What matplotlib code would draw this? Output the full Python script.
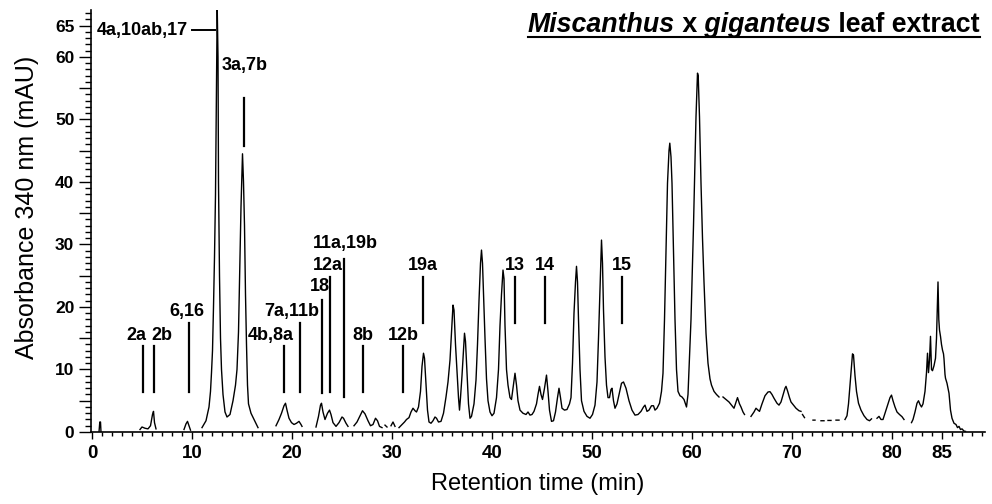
import numpy as np
import matplotlib
matplotlib.use("Agg")
import matplotlib.pyplot as plt
from matplotlib import font_manager
from matplotlib.lines import Line2D
from matplotlib.ticker import FixedLocator, FixedFormatter, MultipleLocator

nan = float("nan")

# chromatogram trace (gaps in the trace -> nan)
retention_time = [
    0.70, 0.78, 0.85, 0.90, nan,
    4.8, 5.0, 5.3, 5.6, 5.85, 6.05, 6.15, 6.25, 6.4, nan,
    9.2, 9.4, 9.55, 9.7, 9.85, nan,
    11.0, 11.4, 11.7, 11.85, 11.95, 12.05, 12.15, 12.25, 12.35, 12.45, 12.52, 12.6,
    12.65, 12.75, 12.85, 12.95, 13.1, 13.3, 13.5, 13.8, 14.1, 14.35, 14.5, 14.65,
    14.8, 14.9, 15.0, 15.05, 15.15, 15.25, 15.35, 15.45, 15.55, 15.65, 15.9, 16.2, 16.6, nan,
    18.4, 18.7, 18.95, 19.2, 19.35, 19.5, 19.7, 19.95, 20.2, 20.45, 20.7, 20.9, 21.0, nan,
    22.4, 22.65, 22.85, 22.95, 23.1, 23.3, 23.55, 23.75, 23.9, 24.1, 24.4, 24.7, 25.0,
    25.15, 25.4, 25.6, nan,
    26.2, 26.5, 26.8, 27.05, 27.3, 27.6, 27.85, 28.1, 28.35, 28.55, 28.75, 29.0, nan,
    29.3, 29.5, nan, 29.9, 30.1, 30.3, nan,
    30.7, 31.0, 31.25, 31.45, 31.7, 31.9, 32.1, 32.3, 32.45, 32.65, 32.85, 33.0, 33.15,
    33.25, 33.4, 33.55, 33.7, 33.9, 34.1, 34.3, 34.45, 34.65, 34.9, 35.15, 35.4, 35.6,
    35.8, 35.95, 36.1, 36.2, 36.35, 36.5, 36.65, 36.75, 36.85, 37.0, 37.15, 37.25, 37.35,
    37.5, 37.65, 37.8, 37.95, 38.2, 38.4, 38.55, 38.7, 38.85, 38.95, 39.05, 39.15, 39.3,
    39.45, 39.6, 39.8, 40.0, 40.2, 40.45, 40.65, 40.8, 40.95, 41.1, 41.2, 41.3, 41.45,
    41.6, 41.8, 41.95, 42.1, 42.3, 42.45, 42.6, 42.8, 43.1, 43.4, 43.6, 43.8, 44.0, 44.2,
    44.45, 44.6, 44.75, 44.9, 45.05, 45.25, 45.45, 45.6, 45.75, 45.95, 46.15, 46.35,
    46.55, 46.7, 46.85, 47.0, 47.25, 47.5, 47.75, 47.9, 48.05, 48.2, 48.35, 48.45, 48.55,
    48.65, 48.8, 48.95, 49.2, 49.5, 49.8, 50.05, 50.3, 50.5, 50.65, 50.8, 50.95, 51.05,
    51.15, 51.3, 51.45, 51.6, 51.75, 51.9, 52.0, 52.15, 52.3, 52.5, 52.7, 52.95, 53.15,
    53.4, 53.7, 54.0, 54.3, 54.6, 54.9, 55.15, 55.3, 55.5, 55.7, 55.95, 56.15, 56.3, 56.5,
    56.75, 56.95, 57.1, 57.25, 57.4, 57.55, 57.7, 57.78, 57.9, 58.0, 58.15, 58.3, 58.45,
    58.6, 58.8, 59.0, 59.2, 59.35, 59.45, 59.6, 59.75, 59.9, 60.0, 60.15, 60.25, 60.4,
    60.55, 60.62, 60.75, 60.9, 61.05, 61.2, 61.4, 61.6, 61.8, 61.95, 62.2, 62.45, 62.7, nan,
    63.1, 63.4, 63.7, 64.0, 64.2, 64.4, 64.55, 64.75, 64.9, 65.1, 65.25, nan,
    65.9, 66.2, 66.4, 66.6, 66.75, 67.0, 67.3, 67.6, 67.8, 68.0, 68.2, 68.5, 68.7, 68.9,
    69.1, 69.3, 69.4, 69.55, 69.75, 69.9, 70.2, 70.4, 70.7, 70.9, nan,
    71.05, 71.25, nan, 72.1, 72.3, nan, 72.9, 73.2, nan, 73.6, 73.9, nan, 74.4, 74.7, nan,
    75.3, 75.5, 75.65, 75.8, 75.95, 76.05, 76.15, 76.3, 76.45, 76.65, 76.9, 77.2, 77.5,
    77.75, 77.95, nan,
    78.5, 78.7, 78.9, 79.1, 79.3, 79.55, 79.8, 79.95, 80.1, 80.3, 80.5, 80.75, 81.0, 81.2, nan,
    81.95, 82.1, 82.3, 82.5, 82.65, 82.8, 82.95, 83.1, 83.3, 83.45, 83.55, 83.65, 83.75,
    83.85, 83.95, 84.05, 84.2, 84.35, 84.45, 84.55, 84.6, 84.68, 84.75, 84.85, 84.95,
    85.05, 85.15, 85.2, 85.3, 85.35, 85.5, 85.6, 85.7, 85.85, 86.0, 86.2, 86.4, 86.55,
    86.7, 86.85, 87.0, 87.2, 87.35,
]
absorbance = [
    0.0, 1.6, 1.6, 0.0, nan,
    0.4, 0.8, 0.6, 0.5, 1.0, 2.8, 3.3, 1.5, 0.5, nan,
    0.4, 1.3, 1.7, 1.0, 0.3, nan,
    0.7, 1.8, 4.0, 6.5, 9.5, 13, 20, 28, 38, 55, 68, 60,
    40, 25, 15, 10, 6, 3.2, 2.4, 2.8, 5.0, 7.5, 10, 16,
    28, 36, 42, 44.5, 40, 33, 22, 14, 7.5, 4.5, 3.0, 2.0, 0.7, nan,
    1.0, 2.0, 3.0, 4.2, 4.6, 3.5, 2.2, 1.5, 1.2, 1.4, 1.7, 1.2, 0.9, nan,
    0.8, 2.5, 4.3, 4.6, 3.2, 2.0, 3.0, 3.5, 2.8, 1.5, 0.9, 1.5, 2.4,
    2.2, 1.4, 0.9, nan,
    1.0, 1.6, 2.6, 3.4, 2.9, 1.8, 1.0, 1.2, 2.2, 1.8, 0.9, 0.7, nan,
    1.1, 0.8, nan, 1.0, 1.6, 0.9, nan,
    0.7, 1.2, 1.6, 2.0, 2.3, 3.2, 3.8, 3.4, 3.2, 4.0, 6.5, 10.5, 12.6,
    11.8, 7.5, 3.5, 1.6, 1.4, 1.8, 2.4, 2.2, 1.6, 1.7, 3.0, 5.6, 8.0,
    11.5, 16, 20.3, 19.5, 14, 9.9, 5.5, 3.5, 5.5, 9.0, 13, 15.8, 14.5,
    9.4, 4.5, 2.2, 2.5, 4.5, 8.3, 14, 21, 27, 29.1, 27, 22, 15,
    8.5, 5.0, 3.2, 2.6, 3.0, 5.5, 10, 17, 22, 25.9, 24.5, 17, 10,
    7.5, 5.5, 5.2, 7.0, 9.4, 7.5, 5.0, 3.5, 3.0, 2.8, 3.2, 2.7, 2.8, 3.3,
    4.5, 6.0, 7.3, 6.0, 5.2, 7.0, 9.1, 6.5, 3.5, 1.7, 1.8, 3.2,
    5.5, 7.0, 5.5, 3.8, 3.5, 3.6, 4.5, 5.5, 11, 19, 24, 26.5, 24,
    18, 10, 5.0, 3.3, 2.5, 2.2, 2.8, 4.3, 8, 15, 23, 30.7, 27,
    19.5, 12, 7.5, 5.5, 5.5, 6.8, 7.0, 5.0, 3.8, 4.5, 6.0, 7.8, 8.0,
    7.0, 5.0, 3.5, 2.7, 2.8, 3.3, 4.0, 4.3, 3.3, 3.5, 4.2, 4.2, 3.5, 3.8,
    4.6, 6.5, 9.4, 18, 29, 39.8, 45, 46.2, 44, 39.8, 29.1, 18, 10,
    6.5, 5.8, 5.6, 5.2, 4.5, 4.0, 6.0, 12, 18, 23.8, 33, 39.8, 50.4,
    57.4, 57, 50.4, 39.8, 31, 24, 15.8, 11, 8.5, 7.5, 6.5, 6.0, 5.6, nan,
    5.6, 5.2, 4.8, 4.2, 3.8, 4.8, 5.5, 4.5, 4.0, 3.2, 2.8, nan,
    2.5, 3.2, 3.8, 3.5, 3.3, 4.5, 5.8, 6.4, 6.45, 6.0, 5.4, 4.6, 4.3, 4.8,
    5.9, 7.0, 7.3, 6.6, 5.5, 4.8, 4.2, 3.8, 3.4, 3.3, nan,
    2.8, 2.3, nan, 1.9, 1.9, nan, 1.8, 1.8, nan, 1.85, 1.85, nan, 1.9, 1.9, nan,
    2.0, 2.6, 4.5, 7.5, 10.5, 12.5, 12.3, 9.0, 6.5, 4.6, 3.5, 2.6, 2.0,
    1.8, 2.1, nan,
    2.2, 2.5, 2.0, 2.0, 3.0, 4.2, 5.5, 5.9, 5.0, 4.0, 3.2, 2.8, 2.45, 2.0, nan,
    1.5, 2.0, 3.2, 4.6, 5.0, 4.4, 4.0, 4.5, 6.5, 9.5, 12.6, 9.5, 11.5,
    15.3, 10.0, 9.8, 10.6, 11.8, 15, 21, 24.0, 18, 16.3, 15.3, 14,
    13.1, 12.5, 11.7, 9.2, 8.6, 7.8, 7.0, 6.2, 3.5, 2.2, 1.4, 1.2, 0.7,
    0.9, 0.4, 0.5, 0.15, 0.1,
]

# peak labels: compound ids, marker position (min), marker line top / bottom (mAU)
peak_labels = ["2a", "2b", "6,16", "4b,8a", "7a,11b", "18", "12a", "11a,19b", "8b",
               "12b", "19a", "13", "14", "15", "3a,7b"]
peak_rt = [5.13, 6.2, 9.66, 19.2, 20.8, 22.95, 23.8, 25.2, 27.1, 31.1, 33.1, 42.3,
           45.3, 53.0, 15.2]
marker_top = [13.8, 13.8, 17.4, 13.8, 17.4, 21.1, 24.8, 27.7, 13.8, 13.8, 24.8, 24.8,
              24.8, 24.8, 53.4]
marker_bottom = [6.4, 6.4, 6.4, 6.4, 6.4, 6.3, 6.4, 5.6, 6.4, 6.4, 17.4, 17.4, 17.4,
                 17.4, 45.8]

# label text placement (layout)
label_x = [4.4, 7.0, 9.5, 17.9, 20.0, 22.8, 23.6, 25.3, 27.1, 31.1, 33.1, 42.3, 45.3,
           53.0, 15.3]
label_y = [15.5, 15.5, 19.2, 15.5, 19.2, 23.3, 26.7, 30.2, 15.5, 15.5, 26.7, 26.7, 26.7,
           26.7, 58.7]

big_label = "4a,10ab,17"
big_label_rt = (10.0, 12.3)
big_label_y = 64.3

y_major = [0, 5, 10, 15, 20, 25, 30, 35, 40, 45, 50, 55, 60, 65]
y_ticklabels = ["0", "", "10", "", "20", "", "30", "", "40", "", "50", "", "60", "65"]
x_major = [0, 10, 20, 30, 40, 50, 60, 70, 80, 85]


def pick_font(names):
    for n in names:
        try:
            font_manager.findfont(n, fallback_to_default=False)
            return n
        except Exception:
            pass
    return "DejaVu Sans"


plain = pick_font(["Liberation Sans", "Arial"])
plt.rcParams["font.family"] = plain

fig = plt.figure(figsize=(9.92, 5.04), dpi=100)
ax = fig.add_axes([91 / 992, 72 / 504, 894 / 992, 422 / 504])

ax.plot(retention_time, absorbance, color="black", lw=1.0)

for i in range(len(peak_labels)):
    ax.plot([peak_rt[i], peak_rt[i]], [marker_bottom[i], marker_top[i]], color="black", lw=1.6)
    ax.text(label_x[i], label_y[i], peak_labels[i], ha="center", va="center",
            fontsize=13, fontweight="bold")

ax.plot(big_label_rt, [big_label_y, big_label_y], color="black", lw=1.4)
ax.text(big_label_rt[0] - 0.45, big_label_y, big_label, ha="right", va="center",
        fontsize=13, fontweight="bold")

ax.set_xlim(-0.1, 89.3)
ax.set_ylim(0, 67.5)
for s in ["top", "right"]:
    ax.spines[s].set_visible(False)
ax.spines["left"].set_linewidth(1.2)
ax.spines["bottom"].set_linewidth(1.2)

ax.xaxis.set_major_locator(FixedLocator(x_major))
ax.xaxis.set_minor_locator(MultipleLocator(1))
ax.yaxis.set_major_locator(FixedLocator(y_major))
ax.yaxis.set_major_formatter(FixedFormatter(y_ticklabels))
ax.yaxis.set_minor_locator(MultipleLocator(1))
ax.tick_params(axis="y", which="major", length=9, width=1.0, pad=3)
ax.tick_params(axis="y", which="minor", length=4.5, width=1.0)
ax.tick_params(axis="x", which="major", length=5, width=1.0, pad=4)
ax.tick_params(axis="x", which="minor", length=3, width=1.0)
for lab in ax.get_xticklabels():
    lab.set_fontsize(13.5)
    lab.set_fontweight("bold")
for lab in ax.get_yticklabels():
    lab.set_fontsize(12.5)
    lab.set_fontweight("bold")

ax.set_xlabel("Retention time (min)", fontsize=17, labelpad=8)
ax.set_ylabel("Absorbance 340 nm (mAU)", fontsize=18)
ax.yaxis.set_label_coords(-0.058, 0.533)

# title built from pieces (italic species names), then underlined
pieces = [("Miscanthus", "italic"), (" x", "normal"), (" giganteus", "italic"),
          (" leaf extract", "normal")]
first = fig.text(528 / 992, (504 - 38) / 504, pieces[0][0], fontsize=19.3,
                 fontweight="bold", fontstyle=pieces[0][1], va="bottom", ha="left")
prev = first
for s, st in pieces[1:]:
    prev = ax.annotate(s, xy=(1, 0), xycoords=prev, va="bottom", ha="left",
                       fontsize=19.3, fontweight="bold", fontstyle=st,
                       annotation_clip=False)
fig.canvas.draw()
r = fig.canvas.get_renderer()
b0 = first.get_window_extent(r)
b1 = prev.get_window_extent(r)
inv = fig.transFigure.inverted()
(ux0, uy), (ux1, _) = inv.transform([(b0.x0, b0.y0 + 1), (b1.x1, b0.y0 + 1)])
fig.add_artist(Line2D([ux0, ux1], [uy, uy], transform=fig.transFigure, color="black", lw=1.5))

fig.savefig("out.png", dpi=100)
